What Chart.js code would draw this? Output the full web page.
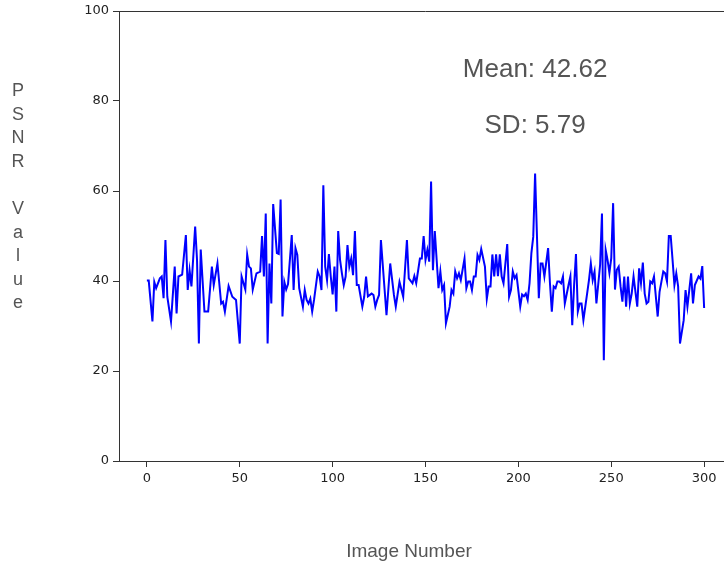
<!DOCTYPE html>
<html>
<head>
<meta charset="utf-8">
<script src="https://cdn.jsdelivr.net/npm/chart.js@4/dist/chart.umd.min.js"></script>
<style>
  html, body { margin: 0; padding: 0; background: #fff; overflow: hidden; }
  #wrap { width: 740px; height: 567px; position: relative; }
</style>
</head>
<body>
<div id="wrap"><canvas id="psnrChart"></canvas></div>
<script>
// values
const imageNumbers = [
  0, 1, 3, 4, 5, 7, 8, 9, 10, 11, 13, 15, 16, 17, 19, 21, 22, 23, 24, 26,
  27, 28, 29, 31, 33, 35, 36, 38, 40, 41, 42, 44, 46, 48, 50, 51, 53, 54, 55, 56,
  57, 59, 61, 62, 63, 64, 65, 66, 67, 68, 70, 71, 72, 73, 74, 75, 76, 78, 79, 80,
  81, 82, 84, 85, 86, 87, 88, 89, 90, 92, 93, 94, 95, 96, 97, 98, 99, 100, 101, 102,
  103, 104, 105, 106, 107, 108, 109, 110, 111, 112, 113, 114, 116, 117, 118, 119, 121, 122, 123, 124,
  125, 126, 128, 129, 131, 133, 134, 136, 138, 140, 141, 143, 144, 145, 147, 148, 149, 150, 151, 152,
  153, 154, 155, 157, 158, 159, 160, 161, 163, 164, 165, 166, 167, 168, 169, 171, 172, 173, 174, 175,
  176, 177, 178, 179, 180, 182, 183, 184, 185, 186, 187, 188, 189, 190, 191, 192, 194, 195, 196, 197,
  198, 199, 201, 202, 203, 204, 205, 206, 207, 208, 209, 211, 212, 213, 214, 216, 217, 218, 219, 220,
  221, 222, 223, 224, 225, 227, 228, 229, 230, 231, 232, 233, 234, 235, 237, 238, 239, 240, 241, 242,
  244, 245, 246, 247, 248, 249, 250, 251, 252, 253, 254, 255, 256, 257, 258, 259, 260, 261, 262, 264,
  265, 266, 267, 268, 269, 270, 271, 272, 273, 275, 276, 278, 279, 280, 281, 282, 283, 284, 285, 286,
  287, 289, 290, 291, 292, 293, 294, 295, 297, 298, 299, 300
];
const psnrValues = [
  40.1, 40.1, 31.0, 39.8, 38.4, 40.6, 41.0, 36.2, 49.1, 36.5, 31.0, 43.2, 32.8, 41.0, 41.4, 50.2, 38.0, 42.4, 38.8, 52.1,
  44.7, 26.1, 47.0, 33.2, 33.2, 43.2, 39.1, 43.9, 35.0, 35.4, 33.2, 38.9, 36.5, 35.8, 26.1, 41.0, 38.1, 45.9, 43.2, 42.8,
  38.1, 41.7, 42.1, 50.0, 41.0, 55.0, 26.1, 43.9, 35.0, 57.1, 46.2, 46.0, 58.1, 32.1, 39.8, 38.1, 39.3, 50.2, 38.0, 47.3,
  45.8, 38.4, 34.3, 38.0, 35.8, 35.0, 36.1, 33.2, 35.8, 42.1, 41.0, 38.0, 61.3, 43.2, 40.2, 46.0, 41.0, 37.0, 43.2, 33.2,
  51.1, 44.7, 41.7, 39.1, 41.0, 48.0, 43.2, 45.0, 41.3, 51.1, 39.1, 39.1, 34.3, 36.5, 41.0, 36.6, 37.2, 36.9, 34.3, 35.8,
  36.9, 49.1, 38.0, 32.4, 43.9, 36.9, 34.3, 39.8, 36.5, 49.1, 40.6, 39.5, 41.1, 39.5, 45.0, 45.0, 50.0, 44.7, 46.9, 44.3,
  62.1, 42.4, 51.1, 38.4, 42.1, 38.0, 39.1, 30.6, 34.3, 38.0, 37.2, 42.1, 40.6, 41.7, 40.2, 45.0, 38.4, 39.9, 39.9, 38.0,
  41.0, 41.0, 45.8, 44.7, 47.1, 43.2, 36.0, 38.8, 38.8, 45.9, 41.0, 45.9, 41.1, 45.9, 41.0, 39.5, 48.2, 36.5, 38.0, 42.1,
  40.6, 41.3, 34.3, 37.0, 36.6, 37.2, 35.8, 39.5, 46.2, 49.8, 63.9, 36.2, 43.9, 43.9, 41.0, 47.3, 39.5, 33.2, 38.8, 38.4,
  39.9, 39.9, 39.5, 41.0, 35.0, 39.1, 41.0, 30.2, 39.1, 46.0, 33.2, 35.0, 35.0, 31.3, 37.2, 40.2, 43.9, 40.2, 42.1, 35.0,
  43.6, 55.0, 22.4, 46.9, 44.7, 41.8, 45.1, 57.3, 38.1, 42.5, 43.2, 38.8, 35.4, 41.0, 34.3, 41.0, 35.0, 37.2, 41.0, 34.3,
  42.8, 39.5, 44.1, 37.2, 35.0, 35.4, 39.9, 39.5, 41.0, 32.1, 37.6, 42.1, 41.7, 39.9, 50.0, 50.0, 44.7, 39.1, 41.7, 38.8,
  26.1, 31.3, 38.0, 34.3, 38.0, 41.7, 35.0, 39.1, 41.0, 40.5, 43.3, 34.0
];
const xTicks = [0, 50, 100, 150, 200, 250, 300];
const yTicks = [0, 20, 40, 60, 80, 100];
const meanLabel = 'Mean: 42.62';
const sdLabel = 'SD: 5.79';
const xTitle = 'Image Number';
const yTitle = 'PSNR Value';

const points = imageNumbers.map((n, i) => ({ x: n, y: psnrValues[i] }));

// matplotlib-style texts and the full box frame
const textPlugin = {
  id: 'texts',
  afterDraw(chart) {
    const c = chart.ctx;
    const area = chart.chartArea;
    const xs = chart.scales.x, ys = chart.scales.y;
    c.save();
    c.strokeStyle = '#333';
    c.lineWidth = 1;
    c.beginPath();
    c.moveTo(area.left, area.top + 0.5);
    c.lineTo(area.right, area.top + 0.5);
    c.lineTo(area.right, area.bottom);
    c.stroke();

    c.fillStyle = '#555';
    c.textAlign = 'center';
    c.textBaseline = 'alphabetic';
    c.font = '26px "Liberation Sans", Arial, sans-serif';
    c.fillText(meanLabel, xs.getPixelForValue(209), ys.getPixelForValue(85.3));
    c.fillText(sdLabel, xs.getPixelForValue(209), ys.getPixelForValue(72.9));

    c.font = '19px "Liberation Sans", Arial, sans-serif';
    c.fillText(xTitle, 409, 557);

    // y label stacked one character per line (space -> empty line)
    c.font = '18px "Liberation Sans", Arial, sans-serif';
    c.textBaseline = 'middle';
    yTitle.split('').forEach((ch, i) => {
      if (ch !== ' ') c.fillText(ch, 18, 91 + i * 23.6);
    });
    c.restore();
  }
};

const tickFont = { family: '"DejaVu Sans", sans-serif', size: 13 };

new Chart(document.getElementById('psnrChart'), {
  type: 'line',
  data: {
    datasets: [{
      data: points,
      borderColor: '#0000ff',
      borderWidth: 2,
      pointRadius: 0,
      tension: 0,
      fill: false
    }]
  },
  options: {
    responsive: true,
    maintainAspectRatio: false,
    animation: false,
    layout: { padding: { top: 11, right: 8, left: 0, bottom: 0 } },
    plugins: {
      legend: { display: false },
      tooltip: { enabled: false }
    },
    scales: {
      x: {
        type: 'linear',
        min: -15,
        max: 315,
        afterBuildTicks: s => { s.ticks = xTicks.map(v => ({ value: v })); },
        afterFit: s => { s.height = 106; s.paddingLeft = 0; s.paddingRight = 0; },
        ticks: { color: '#222', font: tickFont, padding: 4 },
        grid: { drawOnChartArea: false, drawTicks: true, tickLength: 6, color: '#333' },
        border: { color: '#333', width: 1 }
      },
      y: {
        min: 0,
        max: 100,
        afterBuildTicks: s => { s.ticks = yTicks.map(v => ({ value: v })); },
        afterFit: s => { s.width = 119; s.paddingTop = 0; s.paddingBottom = 0; },
        ticks: { color: '#222', font: tickFont, padding: 4 },
        grid: { drawOnChartArea: false, drawTicks: true, tickLength: 6, color: '#333' },
        border: { color: '#333', width: 1 }
      }
    }
  },
  plugins: [textPlugin]
});
</script>
</body>
</html>
